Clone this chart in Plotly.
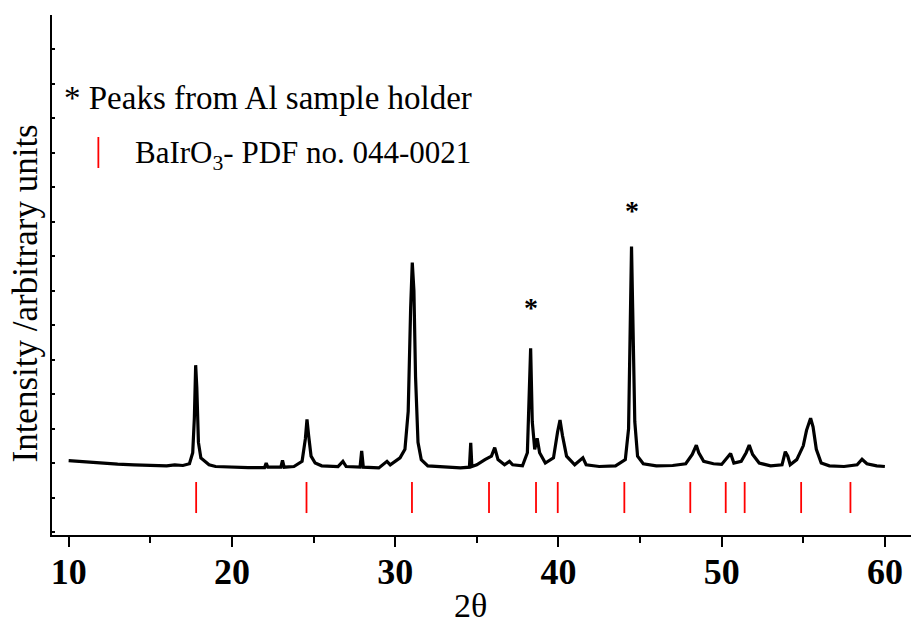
import plotly.graph_objects as go

# XRD pattern (2theta in degrees, intensity in tick units)
two_theta = [10.0, 10.5, 11.0, 12.0, 13.0, 14.0, 15.0, 16.0, 16.5, 17.0, 17.4, 17.6, 17.7, 17.78, 17.85,
             17.95, 18.1, 18.3, 18.6, 19.0, 20.0, 21.0, 22.0, 22.1, 22.2, 23.0, 23.1, 23.2, 23.8, 24.3,
             24.5, 24.6, 24.7, 24.85, 25.1, 25.5, 26.5, 26.8, 27.0, 27.85, 27.95, 28.05, 29.0, 29.5, 29.7,
             30.0, 30.3, 30.6, 30.8, 30.95, 31.05, 31.15, 31.25, 31.4, 31.6, 32.0, 33.0, 34.0, 34.55, 34.63,
             34.7, 35.0, 35.5, 35.9, 36.1, 36.3, 36.7, 37.0, 37.2, 37.8, 38.1, 38.22, 38.3, 38.4, 38.55,
             38.7, 38.85, 39.2, 39.7, 39.95, 40.1, 40.25, 40.5, 41.0, 41.5, 41.7, 42.5, 43.5, 44.1, 44.3,
             44.42, 44.48, 44.55, 44.68, 44.85, 45.2, 46.0, 47.0, 47.8, 48.2, 48.45, 48.6, 48.9, 49.5, 50.0,
             50.4, 50.55, 50.75, 51.2, 51.5, 51.69, 51.9, 52.3, 53.0, 53.7, 53.9, 54.05, 54.2, 54.6, 55.0,
             55.2, 55.45, 55.6, 55.8, 56.1, 56.6, 57.5, 58.3, 58.6, 58.9, 59.5, 60.0]
intensity = [2.07, 2.05, 2.04, 2.00, 1.97, 1.95, 1.93, 1.92, 1.95, 1.93, 1.98, 2.30, 3.30, 4.84, 4.20,
             2.60, 2.15, 2.08, 1.95, 1.90, 1.88, 1.87, 1.87, 2.00, 1.88, 1.88, 2.08, 1.88, 1.90, 2.05,
             2.70, 3.27, 2.80, 2.20, 2.00, 1.92, 1.90, 2.05, 1.90, 1.88, 2.35, 1.88, 1.86, 2.05, 1.95,
             2.05, 2.15, 2.40, 3.50, 6.50, 7.82, 7.00, 4.50, 2.60, 2.10, 1.92, 1.88, 1.86, 1.88, 2.59,
             1.90, 1.95, 2.10, 2.20, 2.45, 2.10, 1.95, 2.05, 1.95, 1.92, 2.30, 4.60, 5.33, 3.20, 2.40,
             2.72, 2.30, 2.00, 2.15, 2.90, 3.25, 2.80, 2.20, 1.95, 2.15, 1.95, 1.90, 1.92, 2.10, 3.00,
             7.00, 8.28, 6.50, 3.20, 2.20, 1.98, 1.92, 1.93, 1.98, 2.25, 2.52, 2.30, 2.05, 1.98, 1.96,
             2.20, 2.28, 2.00, 2.05, 2.30, 2.52, 2.25, 2.00, 1.92, 1.95, 2.33, 2.20, 1.95, 2.10, 2.50,
             2.95, 3.30, 3.05, 2.40, 2.00, 1.92, 1.90, 1.95, 2.11, 1.98, 1.92, 1.90]

# BaIrO3 reference lines (PDF 044-0021)
ref_peaks = [17.81, 24.57, 31.03, 35.75, 38.63, 39.96, 44.04, 48.08, 50.25, 51.41, 54.87, 57.89]

# Al sample holder peaks marked with *
al_peaks = [38.3, 44.48]
al_star_y = [6.5, 9.34]

x_ticks = [10, 20, 30, 40, 50, 60]

serif = "Liberation Serif"

ref_x, ref_y = [], []
for p in ref_peaks:
    ref_x += [p, p, None]
    ref_y += [0.55, 1.45, None]

fig = go.Figure()
fig.add_trace(go.Scatter(x=two_theta, y=intensity, mode="lines",
                         line=dict(color="black", width=3.2), showlegend=False))
fig.add_trace(go.Scatter(x=ref_x, y=ref_y, mode="lines",
                         line=dict(color="red", width=1.8), showlegend=False))
# legend marker for the reference lines
fig.add_trace(go.Scatter(x=[11.82, 11.82], y=[10.56, 11.46], mode="lines",
                         line=dict(color="red", width=1.8), showlegend=False))

for x, y in zip(al_peaks, al_star_y):
    fig.add_annotation(x=x, y=y, text="<b>*</b>", showarrow=False,
                       font=dict(family=serif, size=28, color="black"))

fig.add_annotation(x=9.61, y=12.59, text="* Peaks from Al sample holder", showarrow=False,
                   xanchor="left", yanchor="middle", font=dict(family=serif, size=33, color="black"))
fig.add_annotation(x=13.96, y=10.94, text="BaIrO<sub>3</sub>- PDF no. 044-0021", showarrow=False,
                   xanchor="left", yanchor="middle", font=dict(family=serif, size=31, color="black"))

# axis titles placed as in the original
fig.add_annotation(x=34.6, y=-0.135, xref="x", yref="paper", text="2θ", showarrow=False,
                   xanchor="center", yanchor="middle", font=dict(family=serif, size=34, color="black"))
fig.add_annotation(x=-0.031, y=6.93, xref="paper", yref="y", text="Intensity /arbitrary units",
                   textangle=-90, showarrow=False, xanchor="center", yanchor="middle",
                   font=dict(family=serif, size=35, color="black"))

fig.update_layout(
    width=911, height=623,
    margin=dict(l=52, r=0, t=15, b=88, autoexpand=False),
    plot_bgcolor="white", paper_bgcolor="white",
    font=dict(family=serif, color="black"),
)
fig.update_xaxes(
    range=[8.98, 61.6], showgrid=False, zeroline=False, automargin=False,
    showline=True, linecolor="black", linewidth=2,
    tickmode="array", tickvals=x_ticks, ticktext=[f"<b>{t}</b>" for t in x_ticks],
    ticks="outside", ticklen=10, tickwidth=2, tickcolor="black",
    tickfont=dict(family=serif, size=36, color="black"),
    ticklabelstandoff=-6,
    minor=dict(dtick=5, ticks="outside", ticklen=6, tickwidth=2, tickcolor="black"),
)
fig.update_yaxes(
    range=[-0.087, 15], showgrid=False, zeroline=False, automargin=False,
    showline=True, linecolor="black", linewidth=2,
    dtick=1, ticks="inside", ticklen=3, tickwidth=1.5, tickcolor="black",
    showticklabels=False,
)

# drop the browser's default page margin so the figure sits at the window origin
fig.write_html("out.html", config={"displayModeBar": False},
               post_script="document.body.style.margin='0';")
